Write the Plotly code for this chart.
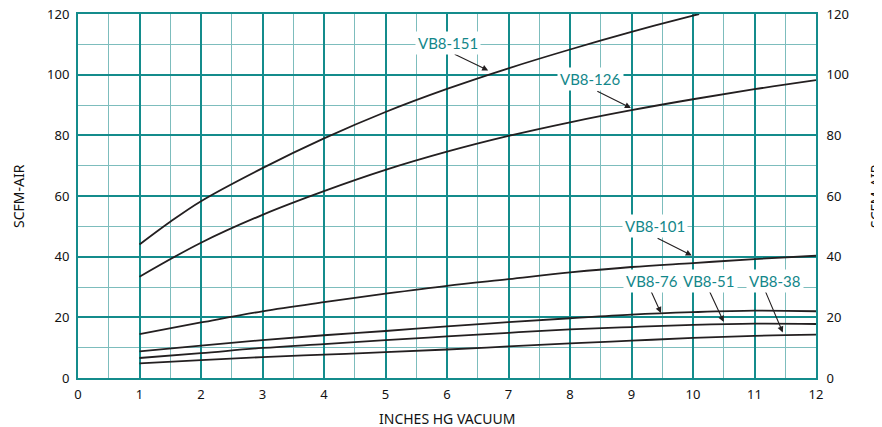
import plotly.graph_objects as go

vacuum = [1, 2, 3, 4, 5, 6, 7, 8, 9, 10, 11, 12]

vb8_151_x = [1, 1.5, 2, 3, 4, 5, 6, 7, 8, 9, 10, 10.1]
vb8_151 = [44.0, 51.5, 58.3, 69.2, 79.0, 87.7, 95.3, 102.1, 108.3, 114.1, 119.5, 120.0]
vb8_126 = [33.4, 44.6, 53.8, 61.6, 68.6, 74.6, 79.8, 84.3, 88.3, 91.9, 95.2, 98.2]
vb8_101 = [14.5, 18.3, 22.0, 25.0, 27.8, 30.4, 32.6, 34.8, 36.6, 37.9, 39.2, 40.3]
vb8_76 = [8.8, 10.7, 12.5, 14.1, 15.5, 17.0, 18.4, 19.7, 20.9, 21.7, 22.2, 22.0]
vb8_51 = [6.6, 8.2, 9.9, 11.2, 12.5, 13.7, 14.9, 16.0, 16.8, 17.5, 17.9, 17.8]
vb8_38 = [4.8, 5.9, 6.9, 7.7, 8.5, 9.4, 10.4, 11.4, 12.3, 13.2, 13.9, 14.3]

x_ticks = list(range(0, 13))
y_ticks = [0, 20, 40, 60, 80, 100, 120]

# label: (text, text_x, text_y, tail_x, tail_y, tip_x, tip_y)
labels = [
    ("VB8-151", 6.02, 110.5, 6.10, 107.0, 6.67, 101.4),
    ("VB8-126", 8.34, 98.5, 8.42, 94.8, 8.99, 89.0),
    ("VB8-101", 9.38, 50.0, 9.40, 46.3, 9.98, 40.4),
    ("VB8-76", 9.34, 31.9, 9.31, 28.9, 9.48, 21.4),
    ("VB8-51", 10.26, 31.9, 10.26, 28.9, 10.50, 18.5),
    ("VB8-38", 11.34, 31.9, 11.17, 28.9, 11.46, 15.0),
]

MAJOR = "#148c8c"
MINOR = "#7dbdbd"
TEAL_TEXT = "#13878a"
LINE = "#231f20"
FONT = "Noto Sans, Open Sans, sans-serif"

fig = go.Figure()
series = [
    (vb8_151_x, vb8_151),
    (vacuum, vb8_126),
    (vacuum, vb8_101),
    (vacuum, vb8_76),
    (vacuum, vb8_51),
    (vacuum, vb8_38),
]
for xs, ys in series:
    fig.add_trace(go.Scatter(x=xs, y=ys, mode="lines",
                             line=dict(color=LINE, width=1.8, shape="spline", smoothing=1.0),
                             showlegend=False, hoverinfo="skip"))
# invisible trace for right axis
fig.add_trace(go.Scatter(x=[0], y=[0], yaxis="y2", mode="markers",
                         marker=dict(opacity=0), showlegend=False, hoverinfo="skip"))

tick_font = dict(family=FONT, size=13, color="#111")

fig.update_layout(
    width=874, height=419,
    margin=dict(l=70, r=66, t=6, b=49, autoexpand=False),
    paper_bgcolor="white", plot_bgcolor="white",
    xaxis=dict(range=[0, 12], tickvals=x_ticks, ticktext=[str(v) for v in x_ticks],
               showgrid=True, gridcolor=MAJOR, gridwidth=1.6,
               minor=dict(dtick=0.5, showgrid=True, gridcolor=MINOR, gridwidth=1.4),
               showline=True, linecolor=MAJOR, linewidth=2, mirror=True,
               zeroline=False, ticks="outside", ticklen=3, tickcolor="rgba(0,0,0,0)",
               tickfont=tick_font, automargin=False, ticklabeloverflow="allow"),
    yaxis=dict(range=[0, 120], tickvals=y_ticks, ticktext=[str(v) for v in y_ticks],
               showgrid=True, gridcolor=MAJOR, gridwidth=1.6,
               minor=dict(dtick=10, showgrid=True, gridcolor=MINOR, gridwidth=1.4),
               showline=True, linecolor=MAJOR, linewidth=2, mirror=True,
               zeroline=False, ticks="outside", ticklen=4, tickcolor="rgba(0,0,0,0)",
               tickfont=tick_font, automargin=False, ticklabeloverflow="allow"),
    yaxis2=dict(range=[0, 120], tickvals=y_ticks, ticktext=[str(v) for v in y_ticks],
                overlaying="y", side="right", showgrid=False, zeroline=False,
                showline=False, ticks="outside", ticklen=7, tickcolor="rgba(0,0,0,0)",
                tickfont=tick_font, automargin=False, ticklabeloverflow="allow"),
)

annotations = []
for text, tx, ty, ax, ay, px, py in labels:
    annotations.append(dict(x=px, y=py, ax=ax, ay=ay, xref="x", yref="y",
                            axref="x", ayref="y", text="", showarrow=True,
                            arrowhead=2, arrowsize=1.1, arrowwidth=1.1, arrowcolor=LINE))
    annotations.append(dict(x=tx, y=ty, xref="x", yref="y", text=text, showarrow=False,
                            font=dict(family="Lato, DejaVu Sans, sans-serif", size=15, color=TEAL_TEXT),
                            bgcolor="white", borderpad=2))
title_font = dict(family=FONT, size=14, color="#111")
annotations.append(dict(x=0.5, y=0, xref="paper", yref="paper", xanchor="center", yanchor="middle",
                        yshift=-40, text="INCHES HG VACUUM", showarrow=False, font=title_font))
annotations.append(dict(x=0, y=0.5, xref="paper", yref="paper", xanchor="center", yanchor="middle",
                        xshift=-60, text="SCFM-AIR", textangle=-90, showarrow=False, font=title_font))
annotations.append(dict(x=1.0, y=0.5, xref="paper", yref="paper", xanchor="center", yanchor="middle",
                        xshift=59, text="SCFM-AIR", textangle=-90, showarrow=False, font=title_font))
fig.update_layout(annotations=annotations)

fig.write_html("out.html")
